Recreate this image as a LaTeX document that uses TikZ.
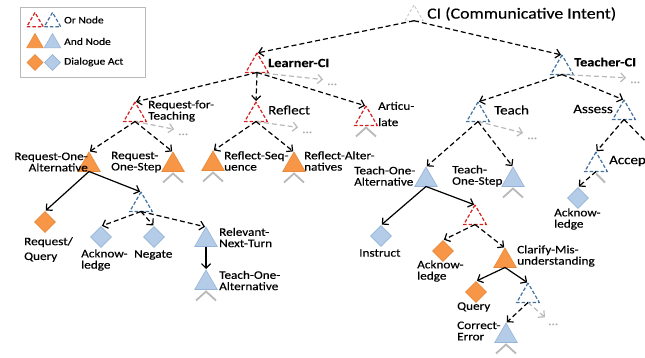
\documentclass[tikz,border=0pt]{standalone}
\usepackage{fontspec}
\setmainfont{Carlito}[FakeStretch=1.15,FakeBold=0.3]
\usetikzlibrary{shapes.geometric,arrows.meta,calc}
\definecolor{orred}{RGB}{214,32,32}
\definecolor{orblue}{RGB}{65,113,156}
\definecolor{andorange}{RGB}{247,150,70}
\definecolor{andorangeline}{RGB}{232,136,56}
\definecolor{andblue}{RGB}{180,204,232}
\definecolor{andblueline}{RGB}{150,180,215}
\definecolor{greyline}{RGB}{185,185,185}
\definecolor{greydots}{RGB}{170,170,170}
\definecolor{cigrey}{RGB}{200,200,200}
\tikzset{
 tri/.style={regular polygon, regular polygon sides=3, minimum size=26pt, inner sep=0pt, outer sep=0pt},
 ortri/.style={tri, draw=#1, line width=1.2pt, dash pattern=on 3.5pt off 2pt},
 andtri/.style={tri, fill=#1, draw=#1line, line width=0.6pt},
 act/.style={diamond, minimum width=21pt, minimum height=21pt, inner sep=0pt, fill=#1, draw=#1line, line width=0.6pt},
 lbl/.style={font=\fontsize{11.5}{11.3}\selectfont, inner sep=0pt, align=left},
 lblr/.style={font=\fontsize{11.5}{11.3}\selectfont, inner sep=0pt, align=right},
 big/.style={font=\fontsize{13}{14}\selectfont, inner sep=0pt},
 bigb/.style={font=\fontsize{12.5}{14}\selectfont\bfseries, inner sep=0pt},
 lgtxt/.style={font=\fontsize{10}{12}\selectfont, inner sep=0pt},
 darr/.style={line width=1.2pt, dash pattern=on 5pt off 3pt, -{Straight Barb[length=4.5pt,width=9pt]}, shorten >=1pt},
 sarr/.style={line width=1.2pt, -{Straight Barb[length=4.5pt,width=9pt]}, shorten >=1pt},
 garr/.style={draw=greyline, line width=1.2pt, dash pattern=on 5pt off 3pt, -{Straight Barb[length=4.5pt,width=9pt]}, shorten >=4pt},
 dotsnode/.style={font=\fontsize{11.5}{11.3}\selectfont, text=greydots, inner sep=0pt, text height=10pt, text depth=0pt},
 chevline/.style={draw=greyline, line width=1.8pt},
}
\newcommand\drawchev[1]{\draw[chevline] ([xshift=-10pt,yshift=-11pt]#1.side 2) -- ([yshift=-2pt]#1.side 2) -- ([xshift=10pt,yshift=-11pt]#1.side 2);}
\begin{document}
\begin{tikzpicture}[x=1pt,y=-1pt]
\useasboundingbox (0,0) rectangle (645,358);
\fill[white] (0,0) rectangle (645,358);
\clip (0,0) rectangle (645,358);

% legend
\node[draw=gray!55, line width=0.7pt, minimum width=125pt, minimum height=70pt, anchor=north west, inner sep=0pt] (legend) at (20,7) {};
\node[ortri=orred, minimum size=19pt] (lgor1) at (35,22) {};
\node[ortri=orblue, minimum size=19pt] (lgor2) at (52.5,22) {};
\node[andtri=andorange, minimum size=19pt] (lgand1) at (35,43) {};
\node[andtri=andblue, minimum size=19pt] (lgand2) at (52.5,43) {};
\node[act=andorange, minimum width=16pt, minimum height=16pt] (lgact1) at (35,62.5) {};
\node[act=andblue, minimum width=16pt, minimum height=16pt] (lgact2) at (52.5,62.5) {};
\node[lgtxt, anchor=west] (lgt1) at (64,20) {Or Node};
\node[lgtxt, anchor=west] (lgt2) at (64,41.5) {And Node};
\node[lgtxt, anchor=west] (lgt3) at (64,62) {Dialogue Act};

% triangles
\node[tri, draw=cigrey, line width=0.9pt, dash pattern=on 3pt off 2pt, minimum size=21pt] (ci) at (414,15.5) {};
\node[ortri=orred] (lci) at (257,66) {};
\node[ortri=orred] (rft) at (135,115) {};
\node[ortri=orred] (refl) at (256,115) {};
\node[ortri=orred] (art) at (366,119) {};
\node[andtri=andorange] (roa) at (89,165) {};
\node[andtri=andorange] (ros) at (173,165) {};
\node[andtri=andorange] (rseq) at (213,164) {};
\node[andtri=andorange] (ralt) at (294,165) {};
\node[ortri=orblue] (orb1) at (141,205) {};
\node[andtri=andblue] (rnt) at (206,240) {};
\node[andtri=andblue] (toa2) at (206,283) {};
\node[ortri=orblue] (tci) at (562,68) {};
\node[ortri=orblue] (teach) at (478,115) {};
\node[ortri=orblue] (assess) at (624,113) {};
\node[ortri=orblue] (accep) at (596,165) {};
\node[andtri=andblue] (toa) at (426,180) {};
\node[andtri=andblue] (tos) at (513,180) {};
\node[ortri=orred] (orr2) at (475,218) {};
\node[andtri=andorange] (clar) at (505,261) {};
\node[ortri=orblue] (orb3) at (528,296) {};
\node[andtri=andblue] (cerr) at (506,336) {};

% dialogue acts
\node[act=andorange] (rq) at (45,222) {};
\node[act=andblue] (ack1) at (101,237) {};
\node[act=andblue] (neg) at (154,237) {};
\node[act=andblue] (ack2) at (578,198) {};
\node[act=andblue] (instr) at (381,236) {};
\node[act=andorange] (ack3) at (443,251) {};
\node[act=andorange] (query) at (476,292) {};

% labels
\node[inner sep=0pt, font=\fontsize{15.5}{17}\selectfont, anchor=west] (tci0) at (427,14) {CI (Communicative Intent)};
\node[bigb, anchor=west] (tlci) at (268,63) {Learner-CI};
\node[bigb, anchor=west] (ttci) at (574,62) {Teacher-CI};
\node[lbl, anchor=west] (trft) at (148,111) {Request-for-\\Teaching};
\node[big, anchor=west] (trefl) at (268,110) {Reflect};
\node[lbl, anchor=west] (tart) at (378,114) {Articu-\\[5pt]late};
\node[lblr, anchor=east] (troa) at (88,162) {Request-One-\\Alternative};
\node[lbl, anchor=west] (tros) at (111,162) {Request-\\One-Step};
\node[lbl, anchor=west] (trseq) at (224,161) {Reflect-Seq-\\uence};
\node[lbl, anchor=west] (tralt) at (304,161) {Reflect-Alter-\\natives};
\node[lbl, anchor=west] (ttoa) at (354,176) {Teach-One-\\Alternative};
\node[lbl, anchor=west] (ttos) at (452,176) {Teach-\\One-Step};
\node[big, anchor=west] (tteach) at (494,110) {Teach};
\node[big, anchor=east] (tassess) at (613,109) {Assess};
\node[big, anchor=west] (taccep) at (609,161) {Accep};
\node[lbl, anchor=west] (tack2) at (554,219) {Acknow-\\ledge};
\node[lbl, anchor=west] (tinstr) at (359,253) {Instruct};
\node[lbl, anchor=west] (tack3) at (417,271) {Acknow-\\ledge};
\node[lbl, anchor=west] (tclar) at (517,256) {Clarify-Mis-\\understanding};
\node[lbl, anchor=west] (tquery) at (457,307) {Query};
\node[lbl, anchor=west] (tcerr) at (457,331) {Correct-\\Error};
\node[lbl, anchor=west] (trq) at (24,249.5) {Request/\\[3.5pt]Query};
\node[lbl, anchor=west] (tack1) at (81,260) {Acknow-\\ledge};
\node[lbl, anchor=west] (tneg) at (134,255) {Negate};
\node[lbl, anchor=west] (trnt) at (219,237.5) {Relevant-\\Next-Turn};
\node[lbl, anchor=west] (ttoa2) at (219,280.5) {Teach-One-\\Alternative};

% dots
\node[dotsnode, anchor=west] (d1) at (327,80) {...};
\node[dotsnode, anchor=west] (d2) at (178,130) {...};
\node[dotsnode, anchor=west] (d3) at (302,128) {...};
\node[dotsnode, anchor=west] (d4) at (630,78) {...};
\node[dotsnode, anchor=west] (d5) at (527,134) {...};
\node[dotsnode, anchor=west] (d6) at (548,320) {...};

% grey arrows
\draw[garr] (lci.side 2) -- (d1.west);
\draw[garr] (rft.side 2) -- (d2.west);
\draw[garr] (refl.side 2) -- (d3.west);
\draw[garr] (tci.side 2) -- (d4.west);
\draw[garr] (teach.side 2) -- (d5.west);
\draw[garr] (orb3.side 2) -- (d6.west);

% dashed black arrows
\draw[darr] (ci.side 2) -- (lci.corner 1);
\draw[darr] (ci.side 2) -- (tci.corner 1);
\draw[darr] (lci.side 2) -- (rft.corner 1);
\draw[darr] (lci.side 2) -- (refl.corner 1);
\draw[darr] (lci.side 2) -- (art.corner 1);
\draw[darr] (rft.side 2) -- (roa.corner 1);
\draw[darr] (rft.side 2) -- (ros.corner 1);
\draw[darr] (refl.side 2) -- (rseq.corner 1);
\draw[darr] (refl.side 2) -- (ralt.corner 1);
\draw[darr] (orb1.side 2) -- (ack1.north);
\draw[darr] (orb1.side 2) -- (neg.north);
\draw[darr] (orb1.side 2) -- (rnt.corner 1);
\draw[darr] (tci.side 2) -- (teach.corner 1);
\draw[darr] (tci.side 2) -- (assess.corner 1);
\draw[darr] (teach.side 2) -- (toa.corner 1);
\draw[darr] (teach.side 2) -- (tos.corner 1);
\draw[darr] (assess.side 2) -- (accep.corner 1);
\coordinate (offedge) at (662,158);
\draw[darr] (assess.side 2) -- (offedge);
\draw[darr] (accep.side 2) -- (ack2.north);
\draw[darr] (orr2.side 2) -- (ack3.north);
\draw[darr] (orr2.side 2) -- (clar.corner 1);
\draw[darr] (orb3.side 2) -- (cerr.corner 1);

% solid arrows
\draw[sarr] (roa.side 2) -- (rq.north);
\draw[sarr] (roa.side 2) -- (orb1.corner 1);
\draw[sarr] (rnt.side 2) -- (toa2.corner 1);
\draw[sarr] (toa.side 2) -- (instr.north);
\draw[sarr] (toa.side 2) -- (orr2.corner 1);
\draw[sarr] (clar.side 2) -- (query.north);
\draw[sarr] (clar.side 2) -- (orb3.corner 1);

% grey chevrons
\drawchev{ros}
\drawchev{rseq}
\drawchev{ralt}
\drawchev{art}
\drawchev{tos}
\drawchev{toa2}
\drawchev{cerr}
\draw[chevline] ([yshift=-2pt]accep.side 2) -- ([xshift=9pt,yshift=-11pt]accep.side 2);
\end{tikzpicture}
\end{document}
